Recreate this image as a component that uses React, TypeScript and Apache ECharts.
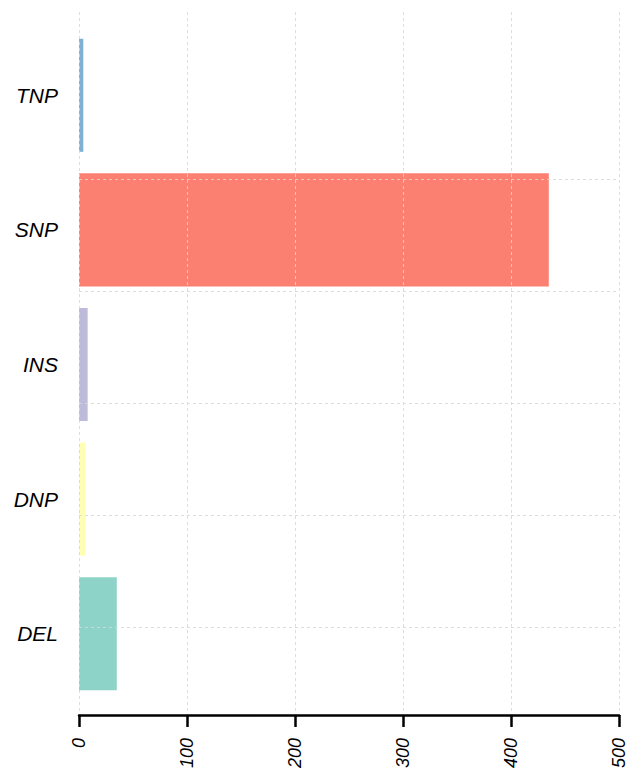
import React, { useEffect, useRef } from "react";
import * as echarts from "echarts";

const categories = ["DEL", "DNP", "INS", "SNP", "TNP"];
const values = [35, 6, 8, 435, 4];
const barColors = ["#8dd3c7", "#ffffb3", "#bebada", "#fb8072", "#80b1d3"];
const xTicks = [0, 100, 200, 300, 400, 500];

const FONT = "'Liberation Sans', Arial, Helvetica, sans-serif";
const GRID_LINE = { color: "rgba(215,215,215,0.85)", width: 1, type: [3, 3] as any };

export default function App() {
  const ref = useRef<HTMLDivElement>(null);
  useEffect(() => {
    if (!ref.current) return;
    const chart = echarts.init(ref.current, null, { renderer: "svg" });
    const xMin = xTicks[0];
    const xMax = xTicks[xTicks.length - 1];
    const xInterval = xTicks[1] - xTicks[0];
    chart.setOption({
      animation: false,
      backgroundColor: "#ffffff",
      textStyle: { fontFamily: FONT },
      grid: [
        { left: 79, right: 10, top: 12, bottom: 56 },
        { left: 79, right: 10, top: 179, bottom: 144 },
        { left: 79, right: 10, top: 28, bottom: 70 },
      ],
      xAxis: [
        {
          gridIndex: 0,
          type: "value",
          min: xMin,
          max: xMax,
          interval: xInterval,
          z: 5,
          axisLine: { show: true, lineStyle: { color: "#000", width: 2.5 } },
          axisTick: { show: true, length: 12, lineStyle: { color: "#000", width: 2.5 } },
          axisLabel: {
            rotate: 90,
            margin: 23,
            fontSize: 18,
            fontStyle: "italic",
            color: "#000",
            fontFamily: FONT,
          },
          splitLine: { show: true, lineStyle: GRID_LINE },
        },
        {
          gridIndex: 1,
          type: "value",
          min: 0,
          max: 1,
          show: false,
        },
        {
          gridIndex: 2,
          type: "value",
          min: xMin,
          max: xMax,
          show: false,
        },
      ],
      yAxis: [
        {
          gridIndex: 0,
          type: "value",
          min: 0,
          max: 1,
          axisLine: { show: false },
          axisTick: { show: false },
          axisLabel: { show: false },
          splitLine: { show: false },
        },
        {
          gridIndex: 1,
          type: "value",
          min: 0,
          max: 4,
          interval: 1,
          z: 5,
          axisLine: { show: false },
          axisTick: { show: false },
          axisLabel: { show: false },
          splitLine: { show: true, lineStyle: GRID_LINE },
        },
        {
          gridIndex: 2,
          type: "category",
          data: categories,
          axisLine: { show: false },
          axisTick: { show: false },
          axisLabel: {
            margin: 21,
            fontSize: 21,
            fontStyle: "italic",
            color: "#000",
            fontFamily: FONT,
          },
          splitLine: { show: false },
        },
      ],
      series: [
        {
          type: "bar",
          xAxisIndex: 2,
          yAxisIndex: 2,
          barCategoryGap: "16%",
          data: values.map((v, i) => ({ value: v, itemStyle: { color: barColors[i] } })),
        },
      ],
    });
    return () => chart.dispose();
  }, []);
  return (
    <div
      ref={ref}
      style={{ position: "absolute", left: 0, top: 0, width: 629, height: 771 }}
    />
  );
}
